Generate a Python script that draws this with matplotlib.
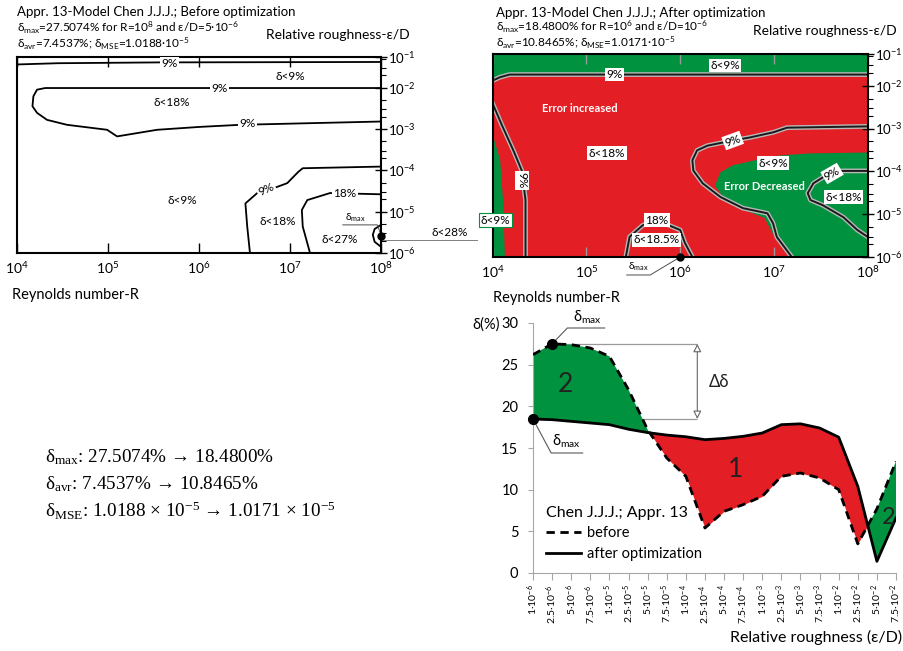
import numpy as np
import matplotlib.pyplot as plt
import matplotlib.patheffects as pe
from matplotlib.lines import Line2D
from matplotlib.ticker import NullLocator, LogLocator, NullFormatter

plt.rcParams['font.family'] = ['Lato', 'DejaVu Sans']
plt.rcParams['axes.unicode_minus'] = True

GREEN = '#00923f'
RED = '#e31e24'
SERIF = ['Liberation Serif', 'DejaVu Serif']

# ---- bottom chart: error along Re = 1e8 -------------------------------------
rough_labels = ['1·10$\\mathregular{^{-6}}$', '2.5·10$\\mathregular{^{-6}}$', '5·10$\\mathregular{^{-6}}$', '7.5·10$\\mathregular{^{-6}}$',
                '1·10$\\mathregular{^{-5}}$', '2.5·10$\\mathregular{^{-5}}$', '5·10$\\mathregular{^{-5}}$', '7.5·10$\\mathregular{^{-5}}$',
                '1·10$\\mathregular{^{-4}}$', '2.5·10$\\mathregular{^{-4}}$', '5·10$\\mathregular{^{-4}}$', '7.5·10$\\mathregular{^{-4}}$',
                '1·10$\\mathregular{^{-3}}$', '2.5·10$\\mathregular{^{-3}}$', '5·10$\\mathregular{^{-3}}$', '7.5·10$\\mathregular{^{-3}}$',
                '1·10$\\mathregular{^{-2}}$', '2.5·10$\\mathregular{^{-2}}$', '5·10$\\mathregular{^{-2}}$', '7.5·10$\\mathregular{^{-2}}$']
delta_before = [26.2, 27.5, 27.4, 27.0, 26.0, 22.0, 17.2, 13.8, 11.6, 5.4,
                7.4, 8.2, 9.2, 11.6, 12.0, 11.4, 10.0, 3.5, 7.7, 13.4]
delta_after = [18.48, 18.4, 18.2, 18.0, 17.8, 17.25, 16.85, 16.55, 16.35, 16.0,
               16.15, 16.4, 16.8, 17.8, 17.9, 17.4, 16.3, 10.4, 1.4, 6.6]
y_ticks = [0, 5, 10, 15, 20, 25, 30]

# ---- contour panels (log10 R, log10 eps/D) ----------------------------------
R_TICKS = [1e4, 1e5, 1e6, 1e7, 1e8]
R_LABELS = ['10$\\mathregular{^4}$', '10$\\mathregular{^5}$', '10$\\mathregular{^6}$', '10$\\mathregular{^7}$', '10$\\mathregular{^8}$']
EPS_TOP = 0.055
EPS_TICKS = [1e-6, 1e-5, 1e-4, 1e-3, 1e-2, EPS_TOP]
EPS_LABELS = ['10$\\mathregular{^{-6}}$', '10$\\mathregular{^{-5}}$', '10$\\mathregular{^{-4}}$',
              '10$\\mathregular{^{-3}}$', '10$\\mathregular{^{-2}}$', '10$\\mathregular{^{-1}}$']

# before optimization
b_top9_r = [4.0, 4.45, 5.57, 8.0]
b_top9_e = [-1.44, -1.41, -1.39, -1.38]
b_loop9_r = [8.0, 4.31, 4.22, 4.18, 4.17, 4.22, 4.33, 4.55, 4.99, 5.10, 5.54, 6.01, 6.45, 8.0]
b_loop9_e = [-2.01, -2.01, -2.05, -2.21, -2.45, -2.61, -2.78, -2.90, -3.02, -3.18, -3.02, -2.95, -2.90, -2.82]
b_low9_r = [6.56, 6.53, 6.51, 6.64, 6.80, 6.97, 7.09, 7.14, 8.0]
b_low9_e = [-6.0, -5.36, -4.80, -4.55, -4.45, -4.31, -4.04, -3.95, -3.91]
b_18_r = [7.22, 7.14, 7.13, 7.19, 7.44, 8.0]
b_18_e = [-6.0, -5.36, -4.96, -4.72, -4.55, -4.58]
b_27_r = [8.0, 7.93, 7.91, 7.93, 8.0]
b_27_e = [-5.32, -5.42, -5.56, -5.73, -5.85]
b_max = (8.0, -5.59)

# after optimization
a_red_r = [4.0, 4.08, 4.18, 8.0, 8.0, 7.39, 7.06, 6.80, 6.56, 6.43, 6.37, 6.48, 6.72, 6.90, 6.98,
           7.09, 7.17, 4.13, 4.11, 4.08, 4.035, 4.0]
a_red_e = [-1.88, -1.80, -1.74, -1.74, -3.56, -3.58, -3.63, -3.74, -3.86, -4.02, -4.33, -4.67, -4.93,
           -5.09, -5.42, -5.79, -6.0, -6.0, -4.67, -3.74, -3.40, -3.16]
a_top9_r = [4.0, 4.08, 4.18, 8.0]
a_top9_e = [-1.88, -1.80, -1.74, -1.74]
a_left9_r = [4.0, 4.10, 4.22, 4.31, 4.35, 4.35]
a_left9_e = [-2.42, -2.93, -3.51, -3.98, -4.67, -6.0]
a_mid9_r = [8.0, 7.14, 6.99, 6.74, 6.56, 6.29, 6.18, 6.13, 6.14, 6.24, 6.43, 6.67, 6.93, 6.99, 7.03, 7.19]
a_mid9_e = [-2.95, -2.98, -3.09, -3.21, -3.28, -3.40, -3.51, -3.74, -3.98, -4.28, -4.60, -4.86, -4.98,
            -5.21, -5.53, -6.0]
a_right9_r = [8.0, 7.63, 7.42, 7.36, 7.39, 7.52, 7.74, 7.89, 8.0]
a_right9_e = [-3.99, -3.99, -4.28, -4.51, -4.67, -4.79, -5.07, -5.37, -5.53]
a_18_r = [5.42, 5.46, 5.60, 5.75, 6.0, 6.05, 6.13]
a_18_e = [-6.0, -5.53, -5.26, -5.14, -5.37, -5.67, -6.0]
a_max = (6.0, -6.0)


def setup_moody(ax, tick_col):
    ax.set_xscale('log')
    ax.set_yscale('log')
    ax.set_xlim(1e4, 1e8)
    ax.set_ylim(1e-6, EPS_TOP)
    ax.yaxis.tick_right()
    ax.set_xticks(R_TICKS, labels=R_LABELS)
    ax.set_yticks(EPS_TICKS, labels=EPS_LABELS)
    ax.xaxis.set_minor_locator(NullLocator())
    ax.yaxis.set_minor_locator(LogLocator(subs=(2, 3, 5)))
    ax.yaxis.set_minor_formatter(NullFormatter())
    ax.tick_params(axis='x', which='both', direction='in', top=True, length=7, width=1,
                   color=tick_col, labelsize=10, pad=5)
    ax.tick_params(axis='y', which='major', direction='inout', length=8, width=1,
                   labelsize=9.5, pad=1)
    ax.tick_params(axis='y', which='minor', direction='out', length=3.5, width=0.8)
    for s in ax.spines.values():
        s.set_linewidth(1.5)


def lab(ax, r, e, s, rot=0, **kw):
    opts = dict(ha='center', va='center', fontsize=8.5, rotation=rot,
                bbox=dict(boxstyle='square,pad=0.12', fc='white', ec='none'))
    opts.update(kw)
    ax.text(10 ** r, 10 ** e, s, **opts)


fig = plt.figure(figsize=(9.04, 6.51), dpi=100)

# ---------------- top-left: before optimization ----------------
ax1 = fig.add_axes([17 / 904, 1 - 253 / 651, 364 / 904, 196 / 651])
setup_moody(ax1, 'k')
for lr, le in [(b_top9_r, b_top9_e), (b_loop9_r, b_loop9_e), (b_low9_r, b_low9_e),
               (b_18_r, b_18_e), (b_27_r, b_27_e)]:
    ax1.plot(10 ** np.array(lr), 10 ** np.array(le), color='k', lw=1.3)
ax1.plot(10 ** b_max[0], 10 ** b_max[1], 'o', color='k', ms=5, clip_on=False, zorder=5)
lab(ax1, 5.68, -1.42, '9%')
lab(ax1, 6.23, -2.01, '9%')
lab(ax1, 6.53, -2.88, '9%')
lab(ax1, 6.74, -4.47, '9%', rot=25)
lab(ax1, 7.60, -4.57, '18%')
lab(ax1, 7.0, -1.73, 'δ<9%', bbox=None)
lab(ax1, 5.70, -2.37, 'δ<18%', bbox=None)
lab(ax1, 5.82, -4.72, 'δ<9%', bbox=None)
lab(ax1, 6.86, -5.24, 'δ<18%', bbox=None)
lab(ax1, 7.55, -5.68, 'δ<27%', bbox=None)
lab(ax1, 7.72, -5.15, 'δ$\\mathregular{_{max}}$', bbox=None, fontsize=7.5)
ax1.plot(10 ** np.array([7.58, 7.96, 8.0]), 10 ** np.array([-5.32, -5.32, -5.57]),
         color='0.3', lw=0.7, clip_on=False)
ax1.plot(10 ** np.array([8.0, 9.05]), 10 ** np.array([-5.68, -5.68]), color='0.5', lw=0.7, clip_on=False)
ax1.text(10 ** 8.76, 10 ** -5.50, 'δ<28%', ha='center', va='center', fontsize=8.5, clip_on=False)

# ---------------- top-right: after optimization ----------------
ax2 = fig.add_axes([492.7 / 904, 1 - 257 / 651, 375 / 904, 203 / 651])
setup_moody(ax2, '0.6')
ax2.set_facecolor(GREEN)
ax2.fill(10 ** np.array(a_red_r), 10 ** np.array(a_red_e), color=RED, lw=0)
halo = [pe.Stroke(linewidth=3.4, foreground='#b8b8b8'), pe.Normal()]
for lr, le in [(a_top9_r, a_top9_e), (a_left9_r, a_left9_e), (a_mid9_r, a_mid9_e),
               (a_right9_r, a_right9_e), (a_18_r, a_18_e)]:
    ax2.plot(10 ** np.array(lr), 10 ** np.array(le), color='#1a1a1a', lw=1.4, path_effects=halo)
ax2.plot(10 ** a_max[0], 10 ** a_max[1], 'o', color='k', ms=5, clip_on=False, zorder=5)
lab(ax2, 5.30, -1.74, '9%')
lab(ax2, 6.48, -1.53, 'δ<9%')
lab(ax2, 4.31, -4.21, '9%', rot=-90)
lab(ax2, 6.56, -3.28, '9%', rot=20)
lab(ax2, 7.62, -4.05, '9%', rot=30)
lab(ax2, 5.75, -5.14, '18%')
lab(ax2, 5.75, -5.60, 'δ<18.5%')
lab(ax2, 5.22, -3.58, 'δ<18%')
lab(ax2, 6.99, -3.81, 'δ<9%')
lab(ax2, 7.74, -4.60, 'δ<18%')
ax2.text(10 ** 4.03, 10 ** -5.14, 'δ<9%', ha='center', va='center', fontsize=8.5, clip_on=False,
         bbox=dict(boxstyle='square,pad=0.15', fc='white', ec=GREEN, lw=0.8))
ax2.text(10 ** 4.93, 10 ** -2.53, 'Error increased', ha='center', va='center', fontsize=8,
         color='white', fontweight='bold')
ax2.text(10 ** 6.90, 10 ** -4.35, 'Error Decreased', ha='center', va='center', fontsize=8,
         color='white', fontweight='bold')
ax2.text(10 ** 5.56, 10 ** -6.22, 'δ$\\mathregular{_{max}}$', ha='center', va='center', fontsize=7.5,
         clip_on=False)
ax2.plot(10 ** np.array([5.43, 5.68, 6.0]), 10 ** np.array([-6.42, -6.42, -6.0]),
         color='0.3', lw=0.7, clip_on=False)

# panel headings
fig.text(17 / 904, 1 - 12 / 651, 'Appr. 13-Model Chen J.J.J.; Before optimization', fontsize=9.5, va='center')
fig.text(17 / 904, 1 - 28 / 651, 'δ$\\mathregular{_{max}}$=27.5074% for R=10$\\mathregular{^8}$ and ε/D=5·10$\\mathregular{^{-6}}$',
         fontsize=8.5, va='center')
fig.text(17 / 904, 1 - 44 / 651, 'δ$\\mathregular{_{avr}}$=7.4537%; δ$\\mathregular{_{MSE}}$=1.0188·10$\\mathregular{^{-5}}$',
         fontsize=8.5, va='center')
fig.text(410 / 904, 1 - 35 / 651, 'Relative roughness-ε/D', fontsize=10, ha='right', va='center')
fig.text(12 / 904, 1 - 295 / 651, 'Reynolds number-R', fontsize=10.5, va='center')

fig.text(496 / 904, 1 - 13 / 651, 'Appr. 13-Model Chen J.J.J.; After optimization', fontsize=9.5, va='center')
fig.text(496 / 904, 1 - 27 / 651, 'δ$\\mathregular{_{max}}$=18.4800% for R=10$\\mathregular{^6}$ and ε/D=10$\\mathregular{^{-6}}$',
         fontsize=8.5, va='center')
fig.text(496 / 904, 1 - 43 / 651, 'δ$\\mathregular{_{avr}}$=10.8465%; δ$\\mathregular{_{MSE}}$=1.0171·10$\\mathregular{^{-5}}$',
         fontsize=8.5, va='center')
fig.text(897 / 904, 1 - 31 / 651, 'Relative roughness-ε/D', fontsize=10, ha='right', va='center')
fig.text(493 / 904, 1 - 298 / 651, 'Reynolds number-R', fontsize=10.5, va='center')

# ---------------- summary text ----------------
fig.text(45 / 904, 1 - 457 / 651, 'δ$\\mathregular{_{max}}$: 27.5074% → 18.4800%', family=SERIF, fontsize=13.8, va='center')
fig.text(45 / 904, 1 - 484 / 651, 'δ$\\mathregular{_{avr}}$: 7.4537% → 10.8465%', family=SERIF, fontsize=13.8, va='center')
fig.text(45 / 904, 1 - 511 / 651, 'δ$\\mathregular{_{MSE}}$: 1.0188 × 10$\\mathregular{^{-5}}$ → 1.0171 × 10$\\mathregular{^{-5}}$',
         family=SERIF, fontsize=13.8, va='center')

# ---------------- bottom chart ----------------
ax3 = fig.add_axes([533 / 904, 1 - 573 / 651, 363 / 904, 250 / 651])
x = np.arange(len(rough_labels))
before = np.array(delta_before)
after = np.array(delta_after)
ax3.set_xlim(0, len(x) - 1)
ax3.set_ylim(0, 30)

i_max = int(np.argmax(before))
ax3.hlines([before[i_max]], i_max, 8.6, color='0.6', lw=0.9, zorder=1)
ax3.hlines([after[0]], 0, 8.6, color='0.6', lw=0.9, zorder=1)
ax3.fill_between(x, before, after, where=before >= after, interpolate=True, color=GREEN, lw=0, zorder=2)
ax3.fill_between(x, before, after, where=before <= after, interpolate=True, color=RED, lw=0, zorder=2)
ax3.plot(x, before, color='k', lw=2, ls=(0, (3, 2)), zorder=3)
ax3.plot(x, after, color='k', lw=2, zorder=3)

ax3.annotate('', xy=(8.6, after[0]), xytext=(8.6, before[i_max]),
             arrowprops=dict(arrowstyle='<|-|>', fc='white', ec='0.4', lw=0.8,
                             shrinkA=0, shrinkB=0, mutation_scale=12))
ax3.text(9.2, 22.9, 'Δδ', fontsize=12, va='center', ha='left', color='#222222')

ax3.plot(i_max, before[i_max], 'o', color='k', ms=7, clip_on=False, zorder=5)
ax3.plot(0, after[0], 'o', color='k', ms=7, clip_on=False, zorder=5)
ax3.plot([i_max, 1.8, 3.75], [before[i_max], 29.4, 29.4], color='0.35', lw=0.8, zorder=4, clip_on=False)
ax3.text(2.85, 30.7, 'δ$\\mathregular{_{max}}$', fontsize=10.5, ha='center', va='center', clip_on=False)
ax3.plot([0, 0.95, 2.6], [after[0], 14.4, 14.4], color='0.35', lw=0.8, zorder=4)
ax3.text(1.75, 15.8, 'δ$\\mathregular{_{max}}$', fontsize=10.5, ha='center', va='center')

ax3.text(1.7, 22.6, '2', fontsize=19, ha='center', va='center', color='#222222', zorder=4)
ax3.text(10.6, 12.4, '1', fontsize=19, ha='center', va='center', color='#222222', zorder=4)
ax3.text(18.6, 6.6, '2', fontsize=17, ha='center', va='center', color='#222222', zorder=4)

ax3.set_xticks(x, labels=rough_labels, rotation=90, fontsize=7.5)
ax3.set_yticks(y_ticks)
ax3.tick_params(axis='y', labelsize=10.5, length=3.6, color='0.65', pad=7)
ax3.tick_params(axis='x', length=5, color='0.65', pad=3)
for s in ['top', 'right']:
    ax3.spines[s].set_visible(False)
for s in ['left', 'bottom']:
    ax3.spines[s].set_color('0.65')

handles = [Line2D([], [], color='k', lw=2, ls=(0, (3, 2))), Line2D([], [], color='k', lw=2)]
ax3.legend(handles, ['before', 'after optimization'], title='Chen J.J.J.; Appr. 13',
           loc='lower left', bbox_to_anchor=(0.015, 0.02), frameon=False, fontsize=10.5,
           title_fontsize=11.5, alignment='left', handlelength=2.4, handletextpad=0.4,
           borderpad=0, labelspacing=0.45)

fig.text(486 / 904, 1 - 325 / 651, 'δ(%)', fontsize=10.5, ha='center', va='center')
fig.text(902 / 904, 1 - 637 / 651, 'Relative roughness (ε/D)', fontsize=11.5, ha='right', va='center')

fig.savefig('out.png', dpi=100)
